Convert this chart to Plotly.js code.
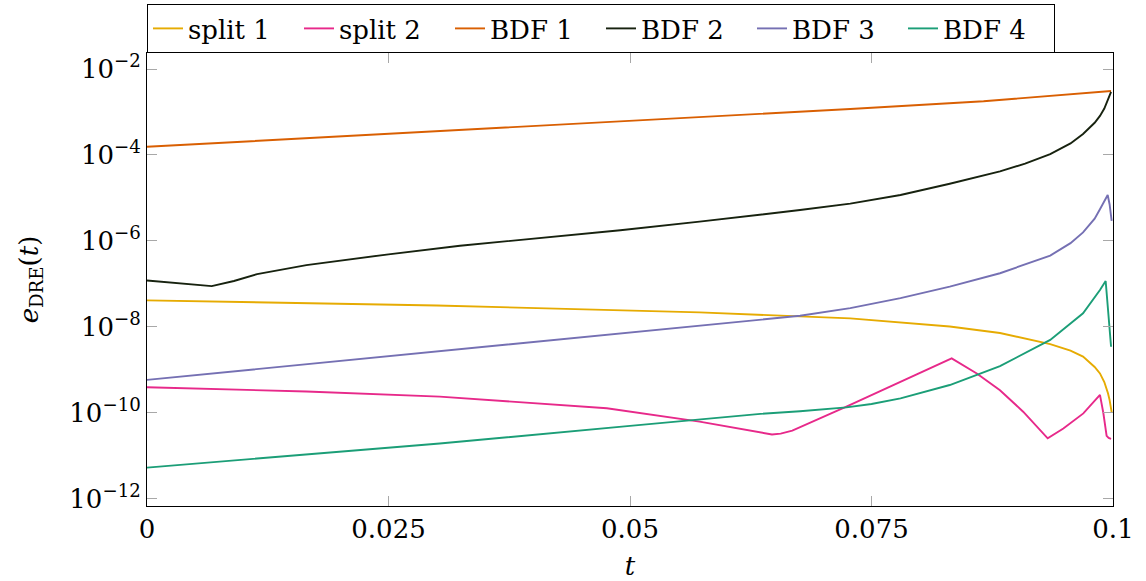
<!DOCTYPE html>
<html>
<head>
<meta charset="utf-8">
<script src="https://cdn.plot.ly/plotly-3.0.1.min.js"></script>
<style>html,body{margin:0;padding:0;background:#fff;}#chart{width:1146px;height:581px;}</style>
</head>
<body>
<div id="chart"></div>
<script>
// values are stored as log10 of e_DRE(t)
const split1T   = [0, 0.015, 0.030, 0.0572, 0.0635, 0.0728, 0.0831, 0.0883, 0.0935, 0.0956, 0.0969, 0.0981, 0.09865, 0.0991, 0.09948, 0.09965, 0.09987];
const split1Log = [-7.38, -7.44, -7.50, -7.66, -7.71, -7.80, -7.99, -8.14, -8.40, -8.55, -8.69, -8.93, -9.08, -9.28, -9.54, -9.70, -9.99];

const split2T   = [0, 0.0165, 0.0303, 0.0476, 0.0572, 0.0625, 0.0638, 0.0647, 0.0656, 0.0668, 0.0724, 0.0833, 0.0859, 0.0883, 0.0907, 0.09324, 0.09486, 0.09693, 0.09865, 0.0990, 0.09934, 0.09955, 0.0998];
const split2Log = [-9.40, -9.50, -9.62, -9.89, -10.20, -10.42, -10.48, -10.50, -10.48, -10.41, -9.85, -8.73, -9.08, -9.47, -9.97, -10.59, -10.36, -10.01, -9.58, -10.00, -10.53, -10.58, -10.60];

const bdf1T   = [0, 0.0125, 0.025, 0.0375, 0.051, 0.062, 0.0728, 0.0866, 0.0998];
const bdf1Log = [-3.81, -3.66, -3.50, -3.35, -3.19, -3.06, -2.93, -2.75, -2.51];

const bdf2T   = [0, 0.0067, 0.0090, 0.0114, 0.0165, 0.025, 0.0324, 0.041, 0.049, 0.0572, 0.0624, 0.0676, 0.0728, 0.078, 0.0831, 0.0883, 0.0909, 0.0935, 0.0956, 0.0969, 0.0981, 0.09865, 0.0991, 0.0994, 0.0996, 0.0998];
const bdf2Log = [-6.92, -7.05, -6.93, -6.77, -6.56, -6.31, -6.11, -5.93, -5.75, -5.55, -5.42, -5.28, -5.13, -4.93, -4.67, -4.38, -4.20, -3.98, -3.73, -3.51, -3.25, -3.09, -2.92, -2.77, -2.65, -2.53];

const bdf3T   = [0, 0.025, 0.05, 0.0572, 0.0624, 0.0676, 0.0728, 0.078, 0.0831, 0.0883, 0.0935, 0.0956, 0.0969, 0.0981, 0.09865, 0.0991, 0.09945, 0.09965, 0.09986];
const bdf3Log = [-9.23, -8.68, -8.13, -7.98, -7.86, -7.74, -7.56, -7.33, -7.06, -6.75, -6.34, -6.05, -5.80, -5.48, -5.26, -5.08, -4.93, -5.15, -5.53];

const bdf4T   = [0, 0.025, 0.0303, 0.05, 0.0559, 0.0635, 0.0676, 0.0724, 0.075, 0.078, 0.0831, 0.0883, 0.0935, 0.0969, 0.09865, 0.09924, 0.0998];
const bdf4Log = [-11.27, -10.80, -10.71, -10.30, -10.18, -10.02, -9.96, -9.87, -9.79, -9.66, -9.35, -8.91, -8.30, -7.68, -7.14, -6.93, -8.46];

const seriesNames = ['split 1', 'split 2', 'BDF 1', 'BDF 2', 'BDF 3', 'BDF 4'];
const seriesColors = ['#e6ab02', '#e7298a', '#d95f02', '#17220f', '#7570b3', '#1b9e77'];

const xTickVals = [0, 0.025, 0.05, 0.075, 0.1];
const xTickText = ['0', '0.025', '0.05', '0.075', '0.1'];
const yTickExp = [-12, -10, -8, -6, -4, -2];

const toVal = a => a.map(v => Math.pow(10, v));
const sets = [[split1T, split1Log], [split2T, split2Log], [bdf1T, bdf1Log], [bdf2T, bdf2Log], [bdf3T, bdf3Log], [bdf4T, bdf4Log]];

const traces = sets.map((s, i) => ({
  x: s[0], y: toVal(s[1]), type: 'scatter', mode: 'lines', name: seriesNames[i],
  line: {color: seriesColors[i], width: 1.9}
}));

const FONT = 'DejaVu Serif';
const FS = 26;
const layout = {
  width: 1146, height: 581,
  margin: {l: 147, r: 33, t: 53, b: 75, autoexpand: false},
  paper_bgcolor: '#fff', plot_bgcolor: '#fff',
  font: {family: FONT, size: FS, color: '#000'},
  showlegend: true,
  legend: {orientation: 'h', x: 0, xanchor: 'left', y: 1, yanchor: 'bottom',
           bordercolor: '#000', borderwidth: 1, bgcolor: '#fff',
           entrywidth: 106, entrywidthmode: 'pixels',
           font: {family: FONT, size: FS, color: '#000'}},
  xaxis: {range: [0, 0.1], tickvals: xTickVals, ticktext: xTickText,
          ticks: 'inside', ticklen: 10, tickwidth: 1, tickcolor: '#a8a8a8',
          showline: true, linecolor: '#000', linewidth: 1, mirror: 'ticks',
          showgrid: false, zeroline: false,
          tickfont: {family: FONT, size: FS},
          title: {text: '<i>t</i>', font: {family: FONT, size: FS}, standoff: 16}},
  yaxis: {type: 'log', range: [-12.163, -1.628],
          tickvals: yTickExp.map(e => Math.pow(10, e)),
          ticktext: yTickExp.map(e => '10<sup>\u2212' + Math.abs(e) + '</sup>'),
          ticks: 'inside', ticklen: 10, tickwidth: 1, tickcolor: '#a8a8a8',
          showline: true, linecolor: '#000', linewidth: 1, mirror: 'ticks',
          showgrid: false, zeroline: false,
          tickfont: {family: FONT, size: FS},
          title: {text: '<i>e</i><sub>DRE</sub>(<i>t</i>)', font: {family: FONT, size: FS}, standoff: 23}}
};

Plotly.newPlot('chart', traces, layout, {displayModeBar: false, staticPlot: true});
</script>
</body>
</html>
